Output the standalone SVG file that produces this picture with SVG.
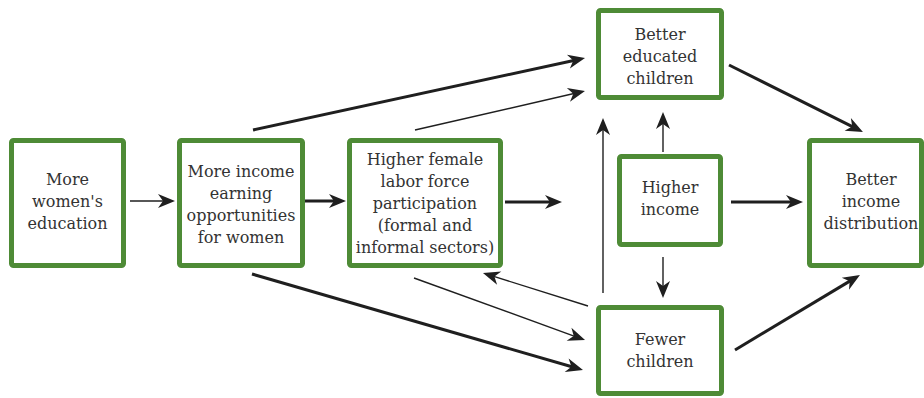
<svg xmlns="http://www.w3.org/2000/svg" width="924" height="398" viewBox="0 0 924 398">
<style>
.box{fill:#fff;stroke:#4e8b36;stroke-width:5}
.t{font-family:"DejaVu Serif","Liberation Serif",serif;font-size:16px;fill:#333;text-anchor:middle}
.thick{stroke:#1f1f1f;stroke-width:3;fill:none}
.thin{stroke:#1f1f1f;stroke-width:1.4;fill:none}
</style>
<defs>
<marker id="ah" viewBox="-10 -8 20 16" refX="0" refY="0" markerWidth="20" markerHeight="16" markerUnits="userSpaceOnUse" orient="auto">
<path d="M8,0 L-9,-7 L-4,0 L-9,7 Z" fill="#1f1f1f"/>
</marker>
</defs>
<rect width="924" height="398" fill="#fff"/>
<g id="connectors">
<line class="thin" x1="130" y1="201" x2="167" y2="201" marker-end="url(#ah)"/>
<line class="thick" x1="305" y1="201" x2="338" y2="201" marker-end="url(#ah)"/>
<line class="thick" x1="505" y1="202" x2="554" y2="202" marker-end="url(#ah)"/>
<line class="thick" x1="731" y1="202" x2="795" y2="202" marker-end="url(#ah)"/>
<line class="thin" x1="663" y1="152" x2="663" y2="120" marker-end="url(#ah)"/>
<line class="thin" x1="663" y1="257" x2="663" y2="290" marker-end="url(#ah)"/>
<line class="thin" x1="603" y1="293" x2="603" y2="126" marker-end="url(#ah)"/>
<line class="thick" x1="729" y1="65" x2="855.8" y2="128.4" marker-end="url(#ah)"/>
<line class="thick" x1="735" y1="350" x2="853.1" y2="279.1" marker-end="url(#ah)"/>
<line class="thick" x1="253" y1="130" x2="577.2" y2="59.7" marker-end="url(#ah)"/>
<line class="thin" x1="415" y1="130" x2="577.2" y2="92.8" marker-end="url(#ah)"/>
<line class="thick" x1="252" y1="274" x2="575.3" y2="367.8" marker-end="url(#ah)"/>
<line class="thin" x1="414" y1="278" x2="577.5" y2="337.3" marker-end="url(#ah)"/>
<line class="thin" x1="588" y1="306" x2="490.6" y2="275.4" marker-end="url(#ah)"/>
</g>
<g id="womens-education">
<rect class="box" x="11.5" y="140.5" width="112" height="125" rx="2"/>
<text class="t"><tspan x="67.5" y="185">More</tspan><tspan x="67.5" y="207">women's</tspan><tspan x="67.5" y="229">education</tspan></text>
</g>
<g id="income-opportunities">
<rect class="box" x="179.5" y="140.5" width="123" height="125" rx="2"/>
<text class="t"><tspan x="241" y="177">More income</tspan><tspan x="241" y="199">earning</tspan><tspan x="241" y="221">opportunities</tspan><tspan x="241" y="243">for women</tspan></text>
</g>
<g id="labor-force">
<rect class="box" x="349.5" y="140.5" width="151" height="125" rx="2"/>
<text class="t"><tspan x="425" y="165">Higher female</tspan><tspan x="425" y="187">labor force</tspan><tspan x="425" y="209">participation</tspan><tspan x="425" y="231">(formal and</tspan><tspan x="425" y="253">informal sectors)</tspan></text>
</g>
<g id="educated-children">
<rect class="box" x="598.5" y="10.5" width="123" height="87" rx="2"/>
<text class="t"><tspan x="660" y="40">Better</tspan><tspan x="660" y="62">educated</tspan><tspan x="660" y="84">children</tspan></text>
</g>
<g id="higher-income">
<rect class="box" x="619.5" y="156.5" width="101" height="88" rx="2"/>
<text class="t"><tspan x="670" y="193">Higher</tspan><tspan x="670" y="215">income</tspan></text>
</g>
<g id="fewer-children">
<rect class="box" x="598.5" y="307.5" width="123" height="86" rx="2"/>
<text class="t"><tspan x="660" y="345">Fewer</tspan><tspan x="660" y="367">children</tspan></text>
</g>
<g id="income-distribution">
<rect class="box" x="809.5" y="140.5" width="112" height="125" rx="2"/>
<text class="t"><tspan x="871" y="185">Better</tspan><tspan x="871" y="207">income</tspan><tspan x="871" y="229">distribution</tspan></text>
</g>
</svg>
